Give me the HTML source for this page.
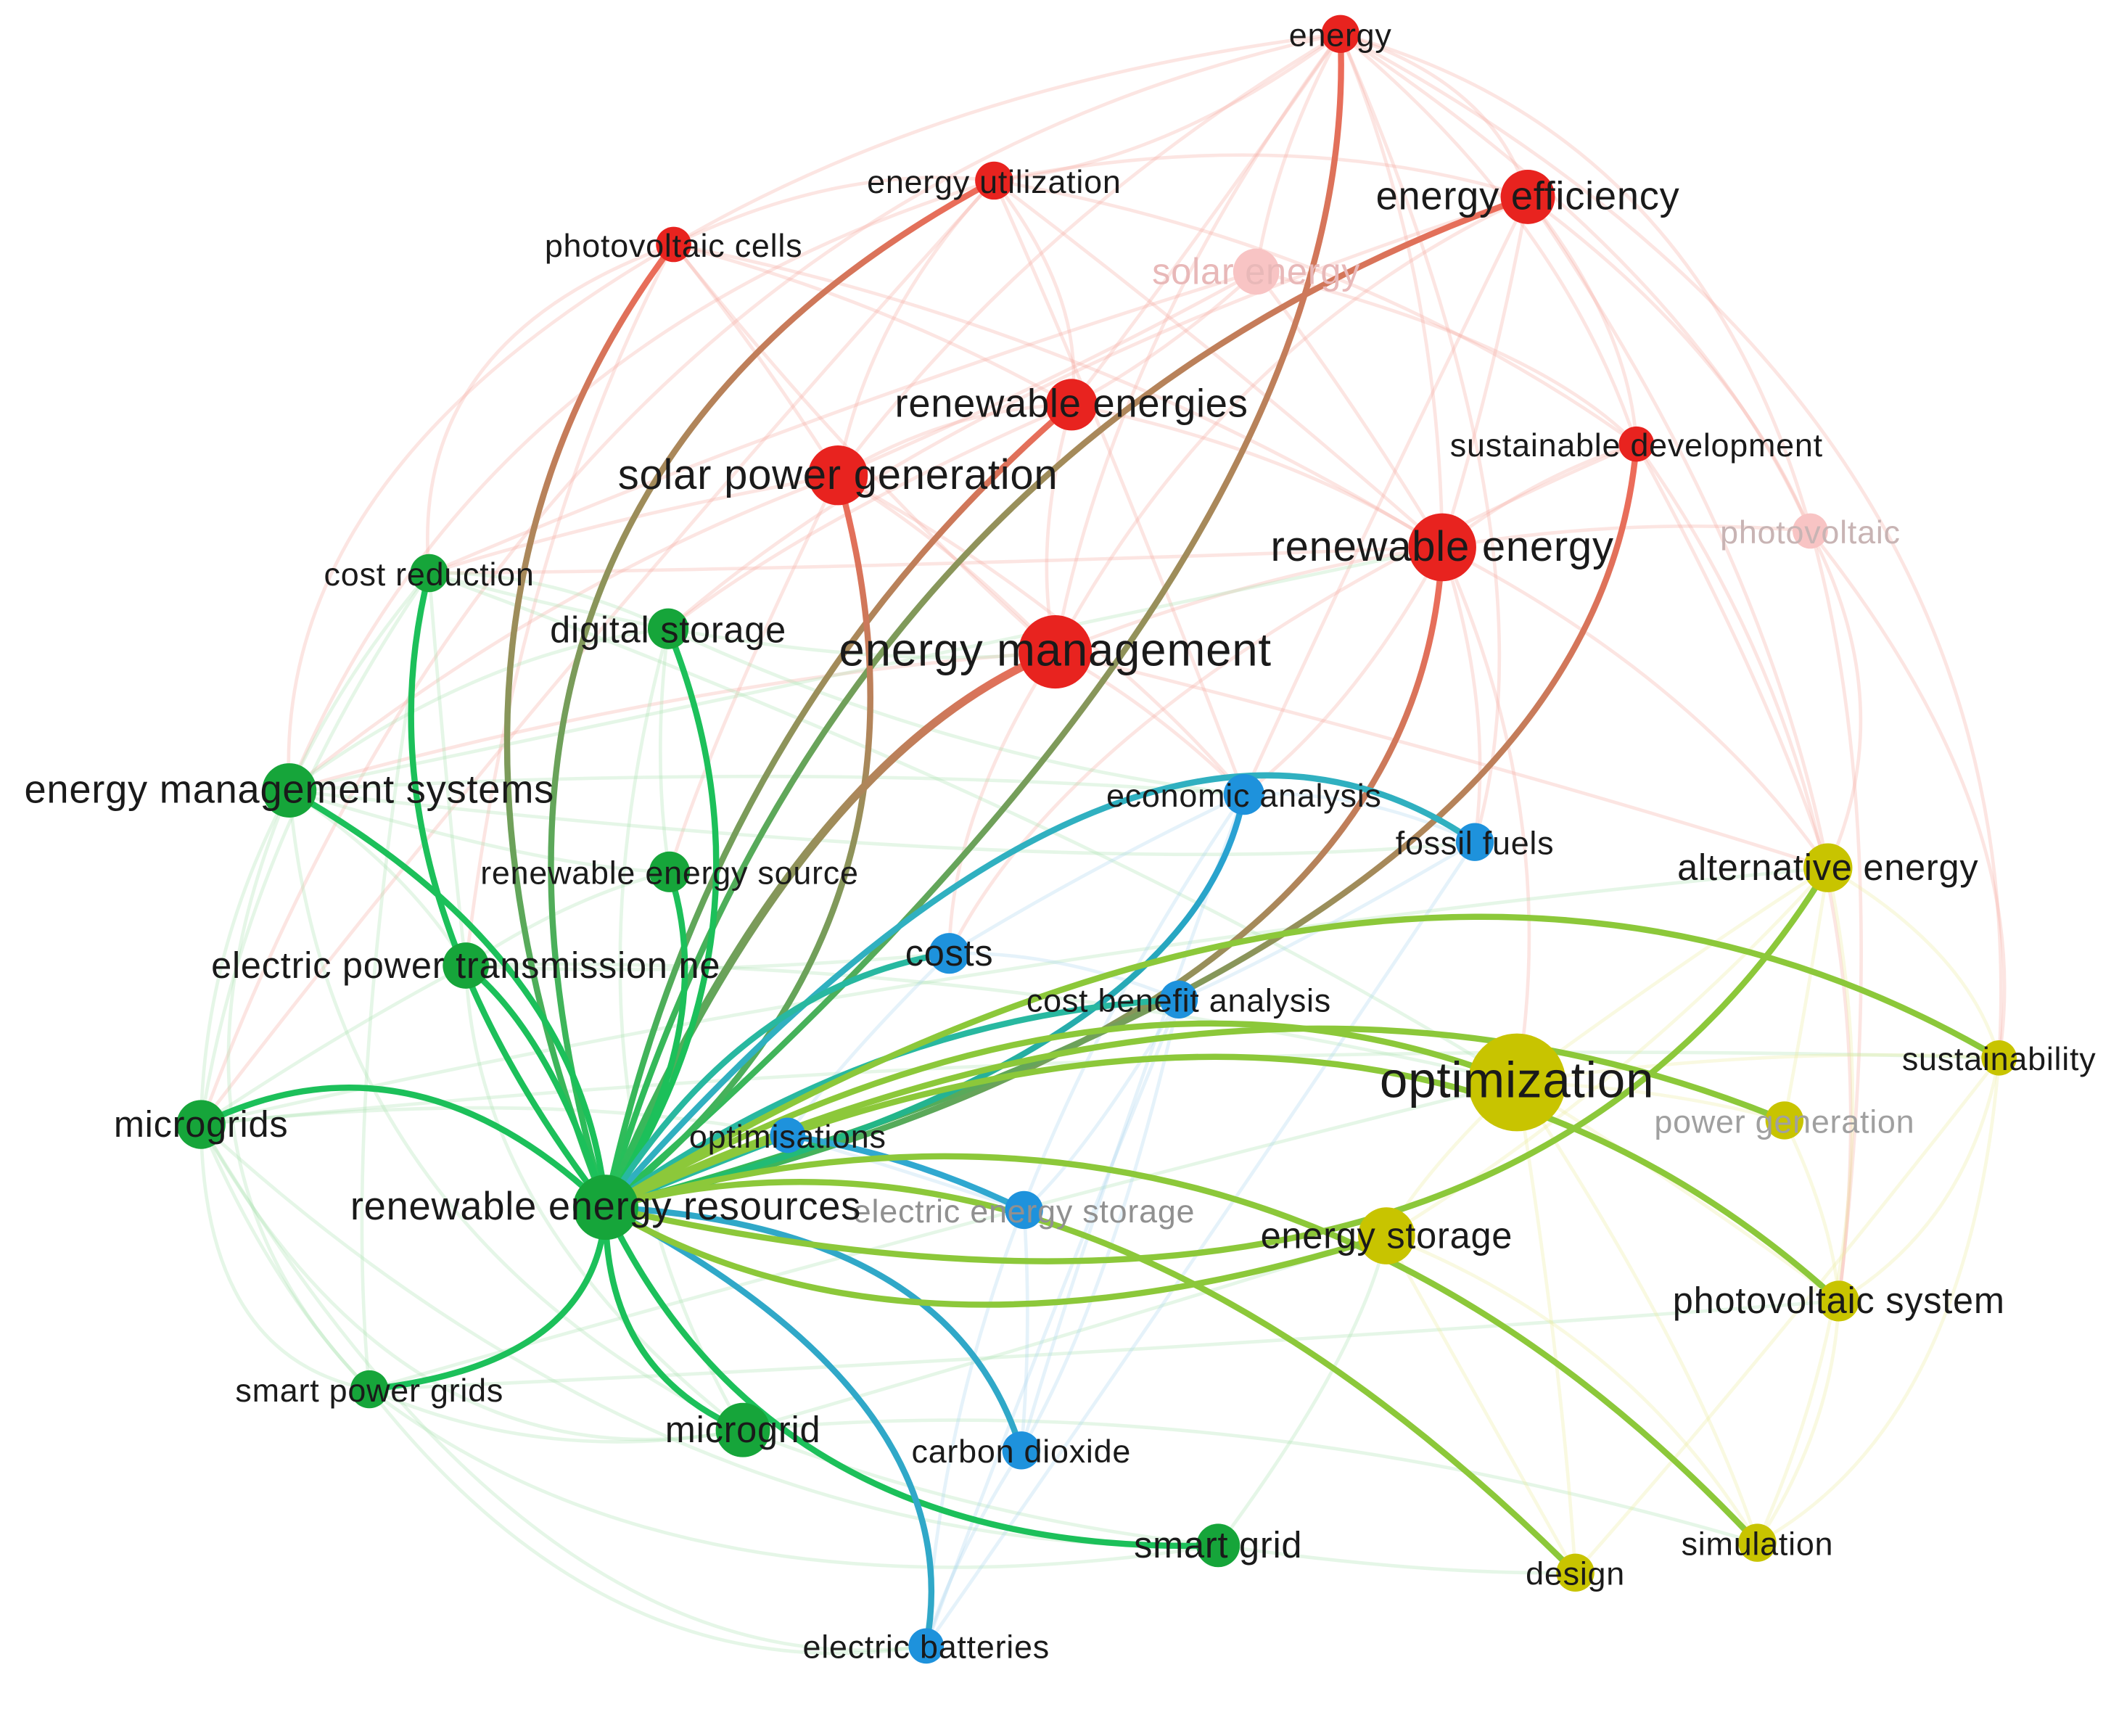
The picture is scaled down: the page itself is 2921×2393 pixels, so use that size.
<!DOCTYPE html>
<html><head><meta charset="utf-8"><style>
html,body{margin:0;padding:0;background:#fff}
svg{display:block}
text{font-family:"Liberation Sans",sans-serif;text-anchor:middle;fill:#1a1a1a;letter-spacing:0.4px}
</style></head><body>
<svg width="2921" height="2393" viewBox="0 0 1560.3 1278.3" xmlns="http://www.w3.org/2000/svg">
<defs>
<linearGradient id="gr1" gradientUnits="userSpaceOnUse" x1="446" y1="889" x2="987" y2="25"><stop offset="0" stop-color="#1fc25a"/><stop offset="1" stop-color="#f06a5a"/></linearGradient>
<linearGradient id="gr2" gradientUnits="userSpaceOnUse" x1="446" y1="889" x2="732" y2="133"><stop offset="0" stop-color="#1fc25a"/><stop offset="1" stop-color="#f06a5a"/></linearGradient>
<linearGradient id="gr3" gradientUnits="userSpaceOnUse" x1="446" y1="889" x2="496" y2="180"><stop offset="0" stop-color="#1fc25a"/><stop offset="1" stop-color="#f06a5a"/></linearGradient>
<linearGradient id="gr4" gradientUnits="userSpaceOnUse" x1="446" y1="889" x2="1125" y2="145"><stop offset="0" stop-color="#1fc25a"/><stop offset="1" stop-color="#f06a5a"/></linearGradient>
<linearGradient id="gr5" gradientUnits="userSpaceOnUse" x1="446" y1="889" x2="789" y2="298"><stop offset="0" stop-color="#1fc25a"/><stop offset="1" stop-color="#f06a5a"/></linearGradient>
<linearGradient id="gr6" gradientUnits="userSpaceOnUse" x1="446" y1="889" x2="617" y2="350"><stop offset="0" stop-color="#1fc25a"/><stop offset="1" stop-color="#f06a5a"/></linearGradient>
<linearGradient id="gr7" gradientUnits="userSpaceOnUse" x1="446" y1="889" x2="777" y2="480"><stop offset="0" stop-color="#1fc25a"/><stop offset="1" stop-color="#f06a5a"/></linearGradient>
<linearGradient id="gr8" gradientUnits="userSpaceOnUse" x1="446" y1="889" x2="1062" y2="403"><stop offset="0" stop-color="#1fc25a"/><stop offset="1" stop-color="#f06a5a"/></linearGradient>
<linearGradient id="gr9" gradientUnits="userSpaceOnUse" x1="446" y1="889" x2="1205" y2="327"><stop offset="0" stop-color="#1fc25a"/><stop offset="1" stop-color="#f06a5a"/></linearGradient>
<linearGradient id="gb" gradientUnits="userSpaceOnUse" x1="446" y1="889" x2="916" y2="585"><stop offset="0" stop-color="#1fc25a"/><stop offset="1" stop-color="#2aa0d8"/></linearGradient>
</defs>

<!-- faint background edges -->
<g fill="none" stroke-width="2.5" stroke-opacity="0.3">
<g stroke="#f5a8a0">
<path d="M987 25 Q860 120 732 133"/><path d="M987 25 Q700 60 496 180"/><path d="M987 25 Q1100 60 1125 145"/><path d="M987 25 Q940 110 925 200"/>
<path d="M987 25 Q880 180 789 298"/><path d="M987 25 Q1150 160 1205 327"/><path d="M987 25 Q760 160 617 350"/><path d="M987 25 Q1250 200 1333 391"/>
<path d="M987 25 Q1060 200 1062 403"/><path d="M987 25 Q820 250 777 480"/><path d="M732 133 Q620 120 496 180"/><path d="M732 133 Q950 90 1125 145"/>
<path d="M732 133 Q800 220 789 298"/><path d="M732 133 Q640 230 617 350"/><path d="M732 133 Q900 260 1062 403"/><path d="M732 133 Q1000 180 1205 327"/>
<path d="M496 180 Q560 260 617 350"/><path d="M496 180 Q650 220 789 298"/><path d="M496 180 Q640 360 777 480"/><path d="M496 180 Q800 240 1062 403"/>
<path d="M1125 145 Q1200 240 1205 327"/><path d="M1125 145 Q1280 260 1333 391"/><path d="M1125 145 Q1100 280 1062 403"/><path d="M1125 145 Q900 250 777 480"/>
<path d="M925 200 Q860 260 789 298"/><path d="M925 200 Q1000 300 1062 403"/><path d="M925 200 Q780 280 617 350"/><path d="M925 200 Q1130 250 1205 327"/>
<path d="M789 298 Q700 300 617 350"/><path d="M789 298 Q760 400 777 480"/><path d="M789 298 Q950 330 1062 403"/><path d="M617 350 Q700 400 777 480"/>
<path d="M1062 403 Q930 420 777 480"/><path d="M1205 327 Q1130 350 1062 403"/><path d="M1333 391 Q1200 380 1062 403"/><path d="M1333 391 Q1400 520 1346 639"/>
<path d="M1333 391 Q1500 600 1472 779"/><path d="M1205 327 Q1300 500 1346 639"/><path d="M987 25 Q1500 300 1472 779"/><path d="M496 180 Q300 250 316 422"/>
<path d="M496 180 Q200 350 213 582"/><path d="M732 133 Q350 250 213 582"/><path d="M987 25 Q400 150 148 828"/><path d="M987 25 Q1450 150 1354 958"/>
<path d="M732 133 Q820 330 916 585"/><path d="M1125 145 Q1000 400 916 585"/><path d="M987 25 Q1150 400 1086 620"/><path d="M617 350 Q800 450 916 585"/>
<path d="M1062 403 Q1000 520 916 585"/><path d="M1062 403 Q1100 520 1086 620"/><path d="M777 480 Q850 520 916 585"/><path d="M789 298 Q600 380 492 463"/>
<path d="M617 350 Q450 380 316 422"/><path d="M617 350 Q400 430 213 582"/><path d="M777 480 Q500 500 213 582"/><path d="M1062 403 Q600 420 316 422"/>
<path d="M925 200 Q600 300 316 422"/><path d="M1125 145 Q700 280 492 463"/><path d="M1205 327 Q800 500 699 702"/><path d="M1125 145 Q1300 400 1346 639"/>
<path d="M1062 403 Q1250 500 1346 639"/><path d="M1205 327 Q1400 600 1354 958"/><path d="M777 480 Q1100 560 1346 639"/><path d="M1062 403 Q1150 600 1117 797"/>
<path d="M496 180 Q380 400 343 711"/><path d="M732 133 Q400 500 148 828"/><path d="M617 350 Q520 550 493 642"/><path d="M777 480 Q700 600 699 702"/>
</g>
<g stroke="#a8e0b0">
<path d="M316 422 Q250 500 213 582"/><path d="M316 422 Q400 420 492 463"/><path d="M213 582 Q150 700 148 828"/><path d="M213 582 Q300 640 343 711"/>
<path d="M148 828 Q200 950 272 1023"/><path d="M272 1023 Q400 1080 547 1053"/><path d="M547 1053 Q720 1120 897 1138"/><path d="M148 828 Q250 760 343 711"/>
<path d="M492 463 Q480 560 493 642"/><path d="M343 711 Q420 660 493 642"/><path d="M213 582 Q350 480 492 463"/><path d="M148 828 Q300 1100 547 1053"/>
<path d="M272 1023 Q500 1200 897 1138"/><path d="M316 422 Q180 620 148 828"/><path d="M148 828 Q400 1250 682 1212"/><path d="M213 582 Q100 850 272 1023"/>
<path d="M316 422 Q600 500 777 480"/><path d="M213 582 Q600 560 916 585"/><path d="M343 711 Q700 700 1117 797"/><path d="M148 828 Q700 700 1346 639"/>
<path d="M272 1023 Q800 1000 1354 958"/><path d="M547 1053 Q900 1020 1294 1136"/><path d="M897 1138 Q1050 1160 1160 1158"/><path d="M213 582 Q700 480 1062 403"/>
<path d="M148 828 Q150 1000 272 1023"/><path d="M213 582 Q240 900 547 1053"/><path d="M316 422 Q250 800 272 1023"/><path d="M492 463 Q400 800 547 1053"/>
<path d="M343 711 Q350 900 547 1053"/><path d="M148 828 Q500 1150 897 1138"/><path d="M272 1023 Q450 1250 682 1212"/><path d="M213 582 Q400 640 493 642"/>
<path d="M316 422 Q330 600 343 711"/><path d="M492 463 Q700 560 916 585"/><path d="M343 711 Q500 720 699 702"/><path d="M148 828 Q400 800 580 836"/>
<path d="M213 582 Q800 650 1086 620"/><path d="M316 422 Q800 600 1117 797"/><path d="M547 1053 Q800 980 1021 910"/><path d="M897 1138 Q1000 1000 1021 910"/>
<path d="M148 828 Q800 760 1472 779"/><path d="M272 1023 Q700 900 1117 797"/>
</g>
<g stroke="#a8d4f0">
<path d="M916 585 Q1000 580 1086 620"/><path d="M916 585 Q800 640 699 702"/><path d="M699 702 Q780 700 868 736"/><path d="M868 736 Q800 850 754 891"/>
<path d="M754 891 Q760 980 752 1068"/><path d="M752 1068 Q700 1150 682 1212"/><path d="M580 836 Q660 860 754 891"/><path d="M916 585 Q800 900 752 1068"/>
<path d="M1086 620 Q900 900 682 1212"/><path d="M916 585 Q700 900 682 1212"/><path d="M868 736 Q820 950 752 1068"/><path d="M699 702 Q620 780 580 836"/>
<path d="M1086 620 Q950 700 868 736"/><path d="M868 736 Q760 1000 682 1212"/>
</g>
<g stroke="#ecec9c">
<path d="M1346 639 Q1250 700 1117 797"/><path d="M1472 779 Q1300 770 1117 797"/><path d="M1314 825 Q1220 800 1117 797"/><path d="M1117 797 Q1050 860 1021 910"/>
<path d="M1117 797 Q1250 880 1354 958"/><path d="M1021 910 Q1200 980 1294 1136"/><path d="M1021 910 Q1100 1050 1160 1158"/><path d="M1354 958 Q1350 1050 1294 1136"/>
<path d="M1472 779 Q1450 900 1354 958"/><path d="M1346 639 Q1450 700 1472 779"/><path d="M1472 779 Q1450 1050 1294 1136"/><path d="M1346 639 Q1400 900 1294 1136"/>
<path d="M1117 797 Q1150 1000 1160 1158"/><path d="M1117 797 Q1250 1000 1294 1136"/><path d="M1346 639 Q1200 800 1021 910"/><path d="M1314 825 Q1350 900 1354 958"/>
<path d="M1472 779 Q1300 1000 1160 1158"/><path d="M1346 639 Q1330 740 1314 825"/>
</g>
</g>

<!-- highlighted edges -->
<g fill="none" stroke-width="4.5" stroke-linecap="round">
<path stroke="url(#gr1)" d="M446 889 Q1004 403 987 25"/>
<path stroke="url(#gr2)" d="M446 889 Q291 369 732 133"/>
<path stroke="url(#gr3)" d="M446 889 Q279 466 496 180"/>
<path stroke="url(#gr4)" d="M446 889 Q615 323 1125 145"/>
<path stroke="url(#gr5)" d="M446 889 Q523 527 789 298"/>
<path stroke="url(#gr6)" d="M446 889 Q709 681 617 350"/>
<path stroke="url(#gr7)" d="M446 889 Q589 556 777 480" stroke-width="6"/>
<path stroke="url(#gr8)" d="M446 889 Q1046 754 1062 403"/>
<path stroke="url(#gr9)" d="M446 889 Q1175 692 1205 327"/>
<g stroke="#1cc05a">
<path d="M446 889 Q259 645 316 422"/>
<path d="M446 889 Q581 684 492 463"/>
<path d="M446 889 Q430 705 213 582"/>
<path d="M446 889 Q530 755 493 642"/>
<path d="M446 889 Q405 760 343 711"/>
<path d="M446 889 Q303 752 148 828"/>
<path d="M446 889 Q441 1004 272 1023"/>
<path d="M446 889 Q444 1009 547 1053"/>
<path d="M446 889 Q569 1147 897 1138"/>
</g>
<path stroke="url(#gb)" d="M446 889 Q879 783 916 585"/>
<path stroke="#30b0c0" d="M446 889 Q834 446 1086 620"/>
<path stroke="#28b8a0" d="M446 889 Q548 725 699 702"/>
<path stroke="#28b8a0" d="M446 889 Q643 748 868 736"/>
<path stroke="#28b8a0" d="M446 889 Q513 862 580 836"/>
<path stroke="#30a8d0" d="M580 836 Q670 850 754 891"/>
<path stroke="#30a8c8" d="M446 889 Q701 902 752 1068"/>
<path stroke="#30a8c8" d="M446 889 Q716 1030 682 1212"/>
<g stroke="#8cc83a">
<path d="M446 889 Q819 677 1117 797"/>
<path d="M446 889 Q1104 1036 1346 639"/>
<path d="M446 889 Q1041 526 1472 779"/>
<path d="M446 889 Q920 663 1314 825"/>
<path d="M446 889 Q667 1021 1021 910"/>
<path d="M446 889 Q1000 637 1354 958"/>
<path d="M446 889 Q930 748 1294 1136"/>
<path d="M446 889 Q797 797 1160 1158"/>
</g>
</g>

<!-- nodes -->
<g fill="#e8231f">
<circle cx="987" cy="25" r="14"/><circle cx="732" cy="133" r="14"/><circle cx="496" cy="180" r="13"/>
<circle cx="1125" cy="145" r="20"/><circle cx="789" cy="298" r="19"/><circle cx="1205" cy="327" r="13"/>
<circle cx="617" cy="350" r="22"/><circle cx="1062" cy="403" r="25"/><circle cx="777" cy="480" r="27"/>
</g>
<circle cx="925" cy="200" r="17" fill="#f8c4c4"/><circle cx="1333" cy="391" r="13" fill="#f8c4c4"/>
<g fill="#16a53a">
<circle cx="316" cy="422" r="14"/><circle cx="492" cy="463" r="15"/><circle cx="213" cy="582" r="20"/>
<circle cx="493" cy="642" r="15"/><circle cx="343" cy="711" r="17"/><circle cx="148" cy="828" r="18"/>
<circle cx="446" cy="889" r="24"/><circle cx="272" cy="1023" r="14"/><circle cx="547" cy="1053" r="20"/><circle cx="897" cy="1138" r="16"/>
</g>
<g fill="#1e92dc">
<circle cx="916" cy="585" r="15"/><circle cx="1086" cy="620" r="14"/><circle cx="699" cy="702" r="15"/>
<circle cx="868" cy="736" r="14"/><circle cx="580" cy="836" r="13"/><circle cx="754" cy="891" r="14"/>
<circle cx="752" cy="1068" r="14"/><circle cx="682" cy="1212" r="13"/>
</g>
<g fill="#c8c400">
<circle cx="1346" cy="639" r="18"/><circle cx="1472" cy="779" r="13"/><circle cx="1117" cy="797" r="36"/>
<circle cx="1314" cy="825" r="14"/><circle cx="1021" cy="910" r="21"/><circle cx="1354" cy="958" r="15"/>
<circle cx="1294" cy="1136" r="14"/><circle cx="1160" cy="1158" r="14"/>
</g>

<!-- labels -->
<g font-size="24">
<text x="987" y="34">energy</text>
<text x="732" y="142">energy utilization</text>
<text x="496" y="189">photovoltaic cells</text>
<text x="1205" y="336">sustainable development</text>
<text x="316" y="431">cost reduction</text>
<text x="272" y="1032">smart power grids</text>
<text x="916" y="594">economic analysis</text>
<text x="1086" y="629">fossil fuels</text>
<text x="868" y="745">cost benefit analysis</text>
<text x="580" y="845">optimisations</text>
<text x="752" y="1077">carbon dioxide</text>
<text x="682" y="1221">electric batteries</text>
<text x="1472" y="788">sustainability</text>
<text x="1294" y="1145">simulation</text>
<text x="1160" y="1167">design</text>
<text x="1333" y="400" style="fill:#c8b4b4">photovoltaic</text>
<text x="1314" y="834" style="fill:#a0a0a0">power generation</text>
<text x="754" y="900" style="fill:#909090">electric energy storage</text>
<text x="493" y="651">renewable energy source</text>
</g>
<g font-size="27">
<text x="492" y="473">digital storage</text>
<text x="343" y="720">electric power transmission ne</text>
<text x="148" y="837">microgrids</text>
<text x="547" y="1062">microgrid</text>
<text x="897" y="1147">smart grid</text>
<text x="699" y="711">costs</text>
<text x="1346" y="648">alternative energy</text>
<text x="1021" y="919">energy storage</text>
<text x="1354" y="967">photovoltaic system</text>
<text x="925" y="209" style="fill:#e8b8b8">solar energy</text>
</g>
<g font-size="29">
<text x="1125" y="154">energy efficiency</text>
<text x="789" y="307">renewable energies</text>
<text x="213" y="591">energy management systems</text>
<text x="446" y="898">renewable energy resources</text>
</g>
<g font-size="31">
<text x="617" y="360">solar power generation</text>
<text x="1062" y="413">renewable energy</text>
</g>
<text x="777" y="490" font-size="34">energy management</text>
<text x="1117" y="808" font-size="37">optimization</text>
</svg>
</body></html>
